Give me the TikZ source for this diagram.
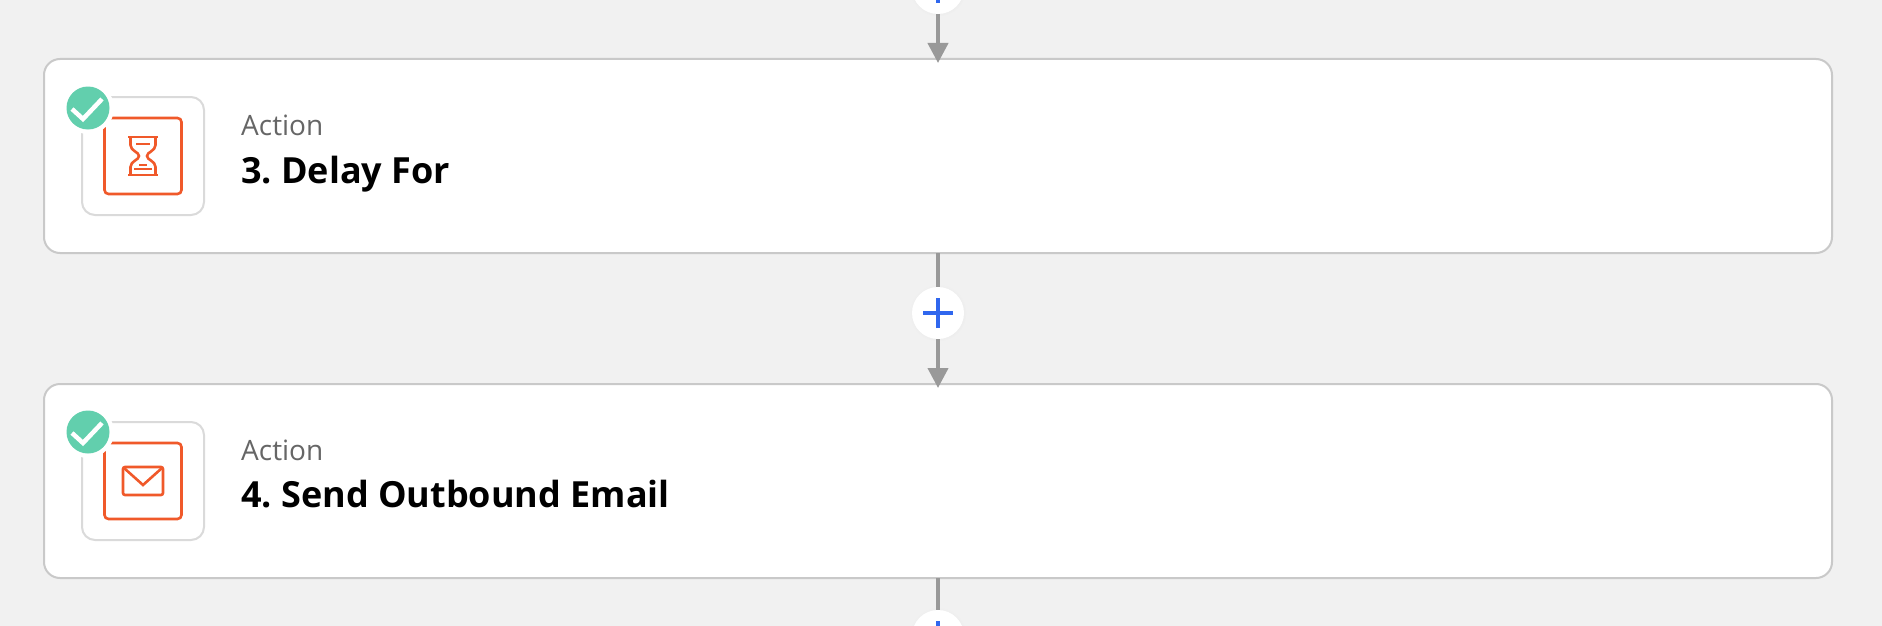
\documentclass[tikz,border=0pt]{standalone}
\usepackage{fontspec}
\setmainfont{Open Sans}
\usetikzlibrary{arrows.meta,shadows}
\definecolor{pagegray}{HTML}{F1F1F1}
\definecolor{cardline}{HTML}{C9C9C9}
\definecolor{iconline}{HTML}{DADADA}
\definecolor{zaporange}{HTML}{F0592A}
\definecolor{badgegreen}{HTML}{62CFAD}
\definecolor{plusblue}{HTML}{3067EE}
\definecolor{linkgray}{HTML}{999999}
\definecolor{labelgray}{HTML}{666666}
\tikzset{
    card/.style={draw=cardline, line width=2pt, fill=white, rounded corners=16pt,
        minimum width=1788pt, minimum height=194pt, inner sep=0pt, outer sep=0pt},
    iconbox/.style={draw=iconline, line width=2pt, fill=white, rounded corners=13pt,
        minimum width=122pt, minimum height=118pt, inner sep=0pt},
    appbox/.style={draw=zaporange, line width=2.6pt, rounded corners=4pt,
        minimum width=77pt, minimum height=76pt, inner sep=0pt},
    halo/.style={circle, fill=white, minimum size=52pt, inner sep=0pt},
    badge/.style={circle, fill=badgegreen, minimum size=43pt, inner sep=0pt},
    tick/.style={draw=white, line width=4.5pt},
    plus/.style={circle, fill=white, minimum size=52pt, inner sep=0pt, outer sep=0pt,
        circular drop shadow={shadow xshift=0pt, shadow yshift=0pt, shadow scale=1.1, opacity=0.04}},
    plusbar/.style={draw=plusblue, line width=4.5pt},
    link/.style={draw=linkgray, line width=4pt},
    arrowlink/.style={link, -{Triangle[length=20pt,width=20pt]}, shorten >=-4pt},
    kind/.style={anchor=base west, inner sep=0pt, text=labelgray, font=\fontsize{28}{32}\selectfont},
    title/.style={anchor=base west, inner sep=0pt, text=black, font=\fontsize{36}{40}\selectfont\bfseries\frenchspacing},
    iconline/.style={draw=zaporange, line width=2.6pt}
}
\begin{document}
\begin{tikzpicture}[x=1pt, y=-1pt]
    % Page background
    \fill[pagegray] (0,0) rectangle (1882,626);
    \useasboundingbox (0,0) rectangle (1882,626);
    \clip (0,0) rectangle (1882,626);

    % The two cards
    \node[card] (card3) at (938,156) {};
    \node[card] (card4) at (938,481) {};

    % Plus buttons between the cards
    \node[plus] (plus2) at (938,-12) {};
    \node[plus] (plus3) at (938,313) {};
    \node[plus] (plus4) at (938,636) {};
    \draw[plusbar] ([xshift=-15pt]plus3.center) -- ([xshift=15pt]plus3.center);
    \draw[plusbar] ([yshift=-15pt]plus3.center) -- ([yshift=15pt]plus3.center);
    \draw[plusbar] ([yshift=-15pt]plus2.center) -- ([yshift=15pt]plus2.center);
    \draw[plusbar] ([yshift=-15pt]plus4.center) -- ([yshift=15pt]plus4.center);

    % Connectors
    \draw[arrowlink] (plus2.south) -- (card3.north);
    \draw[link] (card3.south) -- (plus3.north);
    \draw[arrowlink] (plus3.south) -- (card4.north);
    \draw[link] (card4.south) -- (plus4.north);

    % Icon of card 3
    \node[iconbox] (icon3) at (143,156) {};
    \node[appbox] (app3) at (143,156) {};
    \begin{scope}[shift={(app3.center)}]
        \draw[iconline] (-15,-19) -- (15,-19) (-15,19) -- (15,19);
        \draw[iconline] (-12.5,-19) -- (-12.5,-11) .. controls (-12.5,-5) and (-4,-4) .. (-4,0)
            .. controls (-4,4) and (-12.5,5) .. (-12.5,11) -- (-12.5,19);
        \draw[iconline] (12.5,-19) -- (12.5,-11) .. controls (12.5,-5) and (4,-4) .. (4,0)
            .. controls (4,4) and (12.5,5) .. (12.5,11) -- (12.5,19);
        \draw[iconline] (-7,-12) -- (7,-12) (-4,9) -- (4,9) (-9,13) -- (9,13);
    \end{scope}

    % Icon of card 4
    \node[iconbox] (icon4) at (143,481) {};
    \node[appbox] (app4) at (143,481) {};
    \begin{scope}[shift={(app4.center)}]
        \draw[iconline, rounded corners=2pt] (-20,-14) rectangle (20,14);
        \draw[iconline] (-19,-13) -- (0,4) -- (19,-13);
    \end{scope}

    % Check badges
    \node[halo] (halo3) at (88,108) {};
    \node[badge] (badge3) at (88,108) {};
    \draw[tick] ([shift={(-16,1)}]badge3.center) -- ([shift={(-5,11)}]badge3.center) -- ([shift={(14,-9)}]badge3.center);
    \node[halo] (halo4) at (88,432) {};
    \node[badge] (badge4) at (88,432) {};
    \draw[tick] ([shift={(-16,1)}]badge4.center) -- ([shift={(-5,11)}]badge4.center) -- ([shift={(14,-9)}]badge4.center);

    % Labels
    \node[kind] (kind3) at (241,135) {Action};
    \node[title] (title3) at (241,183) {3. Delay For};
    \node[kind] (kind4) at (241,460) {Action};
    \node[title] (title4) at (241,507) {4. Send Outbound Email};
\end{tikzpicture}
\end{document}
